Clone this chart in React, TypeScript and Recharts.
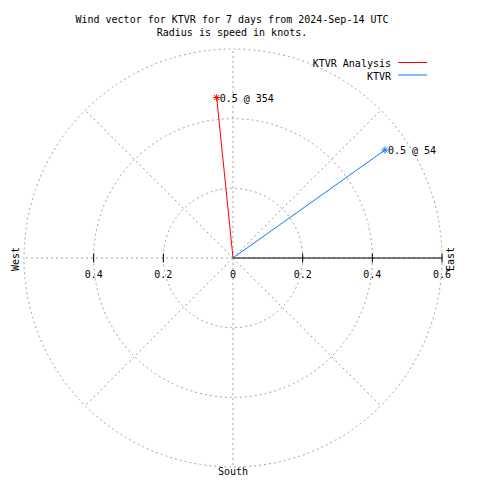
import React from "react";
import {
  RadarChart,
  Radar,
  PolarGrid,
  PolarAngleAxis,
  PolarRadiusAxis,
  ScatterChart,
  Scatter,
  XAxis,
  YAxis,
  ReferenceLine,
  Customized,
} from "recharts";

const compassPoints = ["N", "NE", "E", "SE", "S", "SW", "W", "NW"];
const seriesNames = ["KTVR Analysis", "KTVR"];
const speeds = [0.463, 0.535];
const directions = [354.2, 54.6];
const vectorLabels = ["0.5 @ 354", "0.5 @ 54"];
const radialTicks = [-0.4, -0.2, 0, 0.2, 0.4, 0.6];
const radialTickLabels = ["0.4", "0.2", "0", "0.2", "0.4", "0.6"];
const gridRings = [0.2, 0.4, 0.6];
const titleLines = [
  "Wind vector for KTVR for 7 days from 2024-Sep-14 UTC",
  "Radius is speed in knots.",
];
const eastLabel = "East";
const westLabel = "West";
const southLabel = "South";

const W = 480;
const H = 480;
const CX = 225;
const CY = 250;
const R = 209;
const RMAX = 0.6;
const FONT = "'DejaVu Sans Mono', 'Liberation Mono', monospace";
const COLORS = ["#ff0000", "#0080ff"];
const GRID = "#a0a0a0";

const gridData = compassPoints.map((d) => ({ dir: d, v: 0 }));

const vectorData = speeds.map((s, i) => {
  const rad = (directions[i] * Math.PI) / 180;
  return [
    { x: 0, y: 0, end: false, label: "" },
    { x: s * Math.sin(rad), y: s * Math.cos(rad), end: true, label: vectorLabels[i] },
  ];
});

const tickData = radialTicks.map((v, i) => ({ x: v, y: 0, label: radialTickLabels[i] }));

const makeVectorShape = (color: string) => (props: any) => {
  const { cx, cy, payload } = props;
  if (!payload || !payload.end) return <g />;
  const a = 3.5;
  const d = 2.5;
  return (
    <g>
      <line x1={cx - a} y1={cy} x2={cx + a} y2={cy} stroke={color} strokeWidth={1} />
      <line x1={cx} y1={cy - a} x2={cx} y2={cy + a} stroke={color} strokeWidth={1} />
      <line x1={cx - d} y1={cy - d} x2={cx + d} y2={cy + d} stroke={color} strokeWidth={1} />
      <line x1={cx - d} y1={cy + d} x2={cx + d} y2={cy - d} stroke={color} strokeWidth={1} />
      <text x={cx + 3} y={cy + 4} fontFamily={FONT} fontSize={10} fill="#000" textAnchor="start">
        {payload.label}
      </text>
    </g>
  );
};

const TickShape = (props: any) => {
  const { cx, cy, payload } = props;
  const v = payload.x;
  return (
    <g>
      {v !== 0 && (
        <line x1={cx} y1={cy - 4.5} x2={cx} y2={cy + 4.5} stroke="#000" strokeWidth={1} />
      )}
      <text x={cx} y={cy + 20} fontFamily={FONT} fontSize={10} fill="#000" textAnchor="middle">
        {payload.label}
      </text>
    </g>
  );
};

const Annotations = () => (
  <g fontFamily={FONT} fontSize={10} fill="#000">
    <text x={224} y={15} textAnchor="middle">{titleLines[0]}</text>
    <text x={224} y={28} textAnchor="middle">{titleLines[1]}</text>
    {seriesNames.map((n, i) => (
      <g key={n}>
        <text x={383} y={59 + i * 12.5} textAnchor="end">{n}</text>
        <line x1={390} y1={54.5 + i * 12.5} x2={419} y2={54.5 + i * 12.5} stroke={COLORS[i]} strokeWidth={1} />
      </g>
    ))}
    <text x={446} y={251} textAnchor="middle" transform="rotate(-90 446 251)">{eastLabel}</text>
    <text x={11} y={251} textAnchor="middle" transform="rotate(-90 11 251)">{westLabel}</text>
    <text x={225} y={467} textAnchor="middle">{southLabel}</text>
  </g>
);

const NoTick = () => <g />;

export default function App() {
  return (
    <div style={{ position: "relative", width: W, height: H }}>
      <div style={{ position: "absolute", left: 0, top: 0 }}>
        <RadarChart width={W} height={H} data={gridData} cx={CX} cy={CY} outerRadius={R}>
          <PolarGrid
            gridType="circle"
            stroke={GRID}
            strokeDasharray="2 3"
            polarRadius={gridRings.map((v) => (v / RMAX) * R)}
          />
          <PolarAngleAxis dataKey="dir" tick={false} axisLine={false} />
          <PolarRadiusAxis domain={[0, RMAX]} tick={NoTick} axisLine={false} />
          <Radar dataKey="v" stroke="none" fill="none" dot={false} isAnimationActive={false} />
        </RadarChart>
      </div>
      <div style={{ position: "absolute", left: 0, top: 0 }}>
        <ScatterChart
          width={W}
          height={H}
          margin={{ left: CX - R, right: W - CX - R, top: CY - R, bottom: H - CY - R }}
        >
          <XAxis type="number" dataKey="x" domain={[-RMAX, RMAX]} hide />
          <YAxis type="number" dataKey="y" domain={[-RMAX, RMAX]} hide />
          <ReferenceLine
            segment={[
              { x: 0, y: 0 },
              { x: RMAX, y: 0 },
            ]}
            stroke="#000"
            strokeWidth={1}
          />
          <Scatter data={tickData} shape={TickShape} isAnimationActive={false} />
          {vectorData.map((d, i) => (
            <Scatter
              key={seriesNames[i]}
              name={seriesNames[i]}
              data={d}
              line={{ stroke: COLORS[i], strokeWidth: 1 }}
              lineType="joint"
              shape={makeVectorShape(COLORS[i])}
              isAnimationActive={false}
            />
          ))}
          <Customized component={Annotations} />
        </ScatterChart>
      </div>
    </div>
  );
}
